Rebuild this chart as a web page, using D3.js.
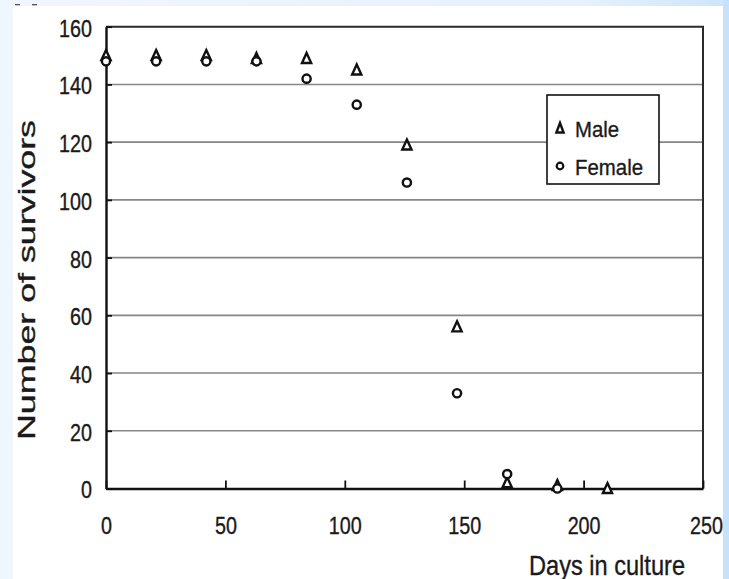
<!DOCTYPE html>
<html>
<head>
<meta charset="utf-8">
<script src="https://cdn.jsdelivr.net/npm/d3@7"></script>
<style>
  html, body { margin: 0; padding: 0; background: #fff; }
  svg { display: block; }
  text { font-family: "Liberation Sans", Arial, Helvetica, sans-serif; fill: #1a1a1a; stroke: #1a1a1a; stroke-width: 0.35px; }
</style>
</head>
<body>
<svg id="chart" width="729" height="579"></svg>
<script>
// ---- data ----
const days = [0, 21, 42, 63, 84, 105, 126, 147, 168, 189, 210];
const male = [150, 150, 150, 149, 149, 145, 119, 56, 2, 1, 0];
const female = [148, 148, 148, 148, 142, 133, 106, 33, 5, 0, null];
const xTicks = [0, 50, 100, 150, 200, 250];
const yTicks = [0, 20, 40, 60, 80, 100, 120, 140, 160];
const seriesNames = ["Male", "Female"];

const W = 729, H = 579;
const svg = d3.select("#chart");

// ---- background ----
const defs = svg.append("defs");
const g1 = defs.append("linearGradient").attr("id", "bg").attr("x1", "0").attr("x2", "1").attr("y1", "0").attr("y2", "0");
g1.append("stop").attr("offset", "0").attr("stop-color", "#f0f6fd");
g1.append("stop").attr("offset", "0.8").attr("stop-color", "#e6f1fc");
g1.append("stop").attr("offset", "1").attr("stop-color", "#cde5fa");
svg.append("rect").attr("width", W).attr("height", H).attr("fill", "url(#bg)");
svg.append("rect").attr("x", 723).attr("y", 0).attr("width", 6).attr("height", H).attr("fill", "#c6e2fa");
svg.append("rect").attr("x", 13).attr("y", 6).attr("width", 710).attr("height", H - 6).attr("fill", "#ffffff");
svg.append("rect").attr("x", 15).attr("y", 4).attr("width", 5).attr("height", 1.3).attr("fill", "#555");
svg.append("rect").attr("x", 32).attr("y", 4).attr("width", 5).attr("height", 1.3).attr("fill", "#555");

// ---- scales ----
const x = d3.scaleLinear().domain([0, 250]).range([106, 703]);
const y = d3.scaleLinear().domain([0, 160]).range([488.5, 26.7]);

function condense(sel, f) {
  sel.each(function () {
    const L = this.getComputedTextLength();
    d3.select(this).attr("textLength", L * f).attr("lengthAdjust", "spacingAndGlyphs");
  });
}

// ---- gridlines ----
svg.append("g").selectAll("line").data(yTicks.filter(d => d > 0 && d < 160)).join("line")
  .attr("x1", x(0)).attr("x2", x(250))
  .attr("y1", d => y(d)).attr("y2", d => y(d))
  .attr("stroke", "#858585").attr("stroke-width", 1.6);

// top and right border
svg.append("line").attr("x1", x(0)).attr("x2", x(250) + 1).attr("y1", y(160)).attr("y2", y(160))
  .attr("stroke", "#2a2a2a").attr("stroke-width", 2);
svg.append("line").attr("x1", x(250)).attr("x2", x(250)).attr("y1", y(160)).attr("y2", y(0))
  .attr("stroke", "#2a2a2a").attr("stroke-width", 2);

// ---- axes ----
const xAxis = d3.axisBottom(x).tickValues(xTicks).tickSizeInner(-8).tickSizeOuter(0).tickPadding(29);
const gx = svg.append("g").attr("transform", `translate(0,${y(0)})`).call(xAxis);
gx.select(".domain").attr("stroke", "#111").attr("stroke-width", 2.4);
gx.selectAll(".tick line").attr("stroke", "#111").attr("stroke-width", 1.8);
gx.selectAll(".tick text").attr("font-size", 23.5)
  .call(condense, 0.84);
gx.selectAll(".tick").filter(d => d === 250).select("text").attr("x", 3);

const yAxis = d3.axisLeft(y).tickValues(yTicks).tickSizeInner(-6).tickSizeOuter(0).tickPadding(14);
const gy = svg.append("g").attr("transform", `translate(${x(0)},0)`).call(yAxis);
gy.select(".domain").attr("stroke", "#111").attr("stroke-width", 2.4);
gy.selectAll(".tick line").attr("stroke", "#111").attr("stroke-width", 1.8);
gy.selectAll(".tick text").attr("font-size", 23.5).attr("dy", "0.40em")
  .call(condense, 0.84);

// ---- axis titles ----
svg.append("text").attr("x", 529).attr("y", 575).attr("font-size", 28)
  .attr("textLength", 156).attr("lengthAdjust", "spacingAndGlyphs")
  .text("Days in culture");
svg.append("text").attr("transform", "translate(35,280) rotate(-90)").attr("text-anchor", "middle")
  .attr("font-size", 24).attr("textLength", 320).attr("lengthAdjust", "spacingAndGlyphs")
  .text("Number of survivors");

// ---- markers ----
const tri = "M0,-5.5 L4.6,4.5 L-4.6,4.5 Z";
const maleData = days.map((d, i) => ({ d, v: male[i] })).filter(p => p.v != null);
const femaleData = days.map((d, i) => ({ d, v: female[i] })).filter(p => p.v != null);

svg.append("g").selectAll("path").data(maleData).join("path")
  .attr("d", tri)
  .attr("transform", p => `translate(${x(p.d)},${y(p.v)})`)
  .attr("fill", "#fff").attr("stroke", "#111").attr("stroke-width", 2.4).attr("stroke-linejoin", "miter");

svg.append("g").selectAll("circle").data(femaleData).join("circle")
  .attr("cx", p => x(p.d)).attr("cy", p => y(p.v)).attr("r", 4.1)
  .attr("fill", "#fff").attr("stroke", "#111").attr("stroke-width", 2.4);

// ---- legend ----
const lg = svg.append("g");
lg.append("rect").attr("x", 547).attr("y", 95).attr("width", 112).attr("height", 89)
  .attr("fill", "#fff").attr("stroke", "#111").attr("stroke-width", 1.6);
lg.append("path").attr("d", "M0,-5 L3.6,4.5 L-3.6,4.5 Z").attr("transform", "translate(560,128)")
  .attr("fill", "#fff").attr("stroke", "#111").attr("stroke-width", 2.4);
lg.append("circle").attr("cx", 560).attr("cy", 166).attr("r", 3.3)
  .attr("fill", "#fff").attr("stroke", "#111").attr("stroke-width", 2.2);
lg.append("text").attr("x", 575).attr("y", 136.5).attr("font-size", 22)
  .attr("textLength", 44).attr("lengthAdjust", "spacingAndGlyphs").text(seriesNames[0]);
lg.append("text").attr("x", 575).attr("y", 175).attr("font-size", 22)
  .attr("textLength", 68).attr("lengthAdjust", "spacingAndGlyphs").text(seriesNames[1]);
</script>
</body>
</html>
